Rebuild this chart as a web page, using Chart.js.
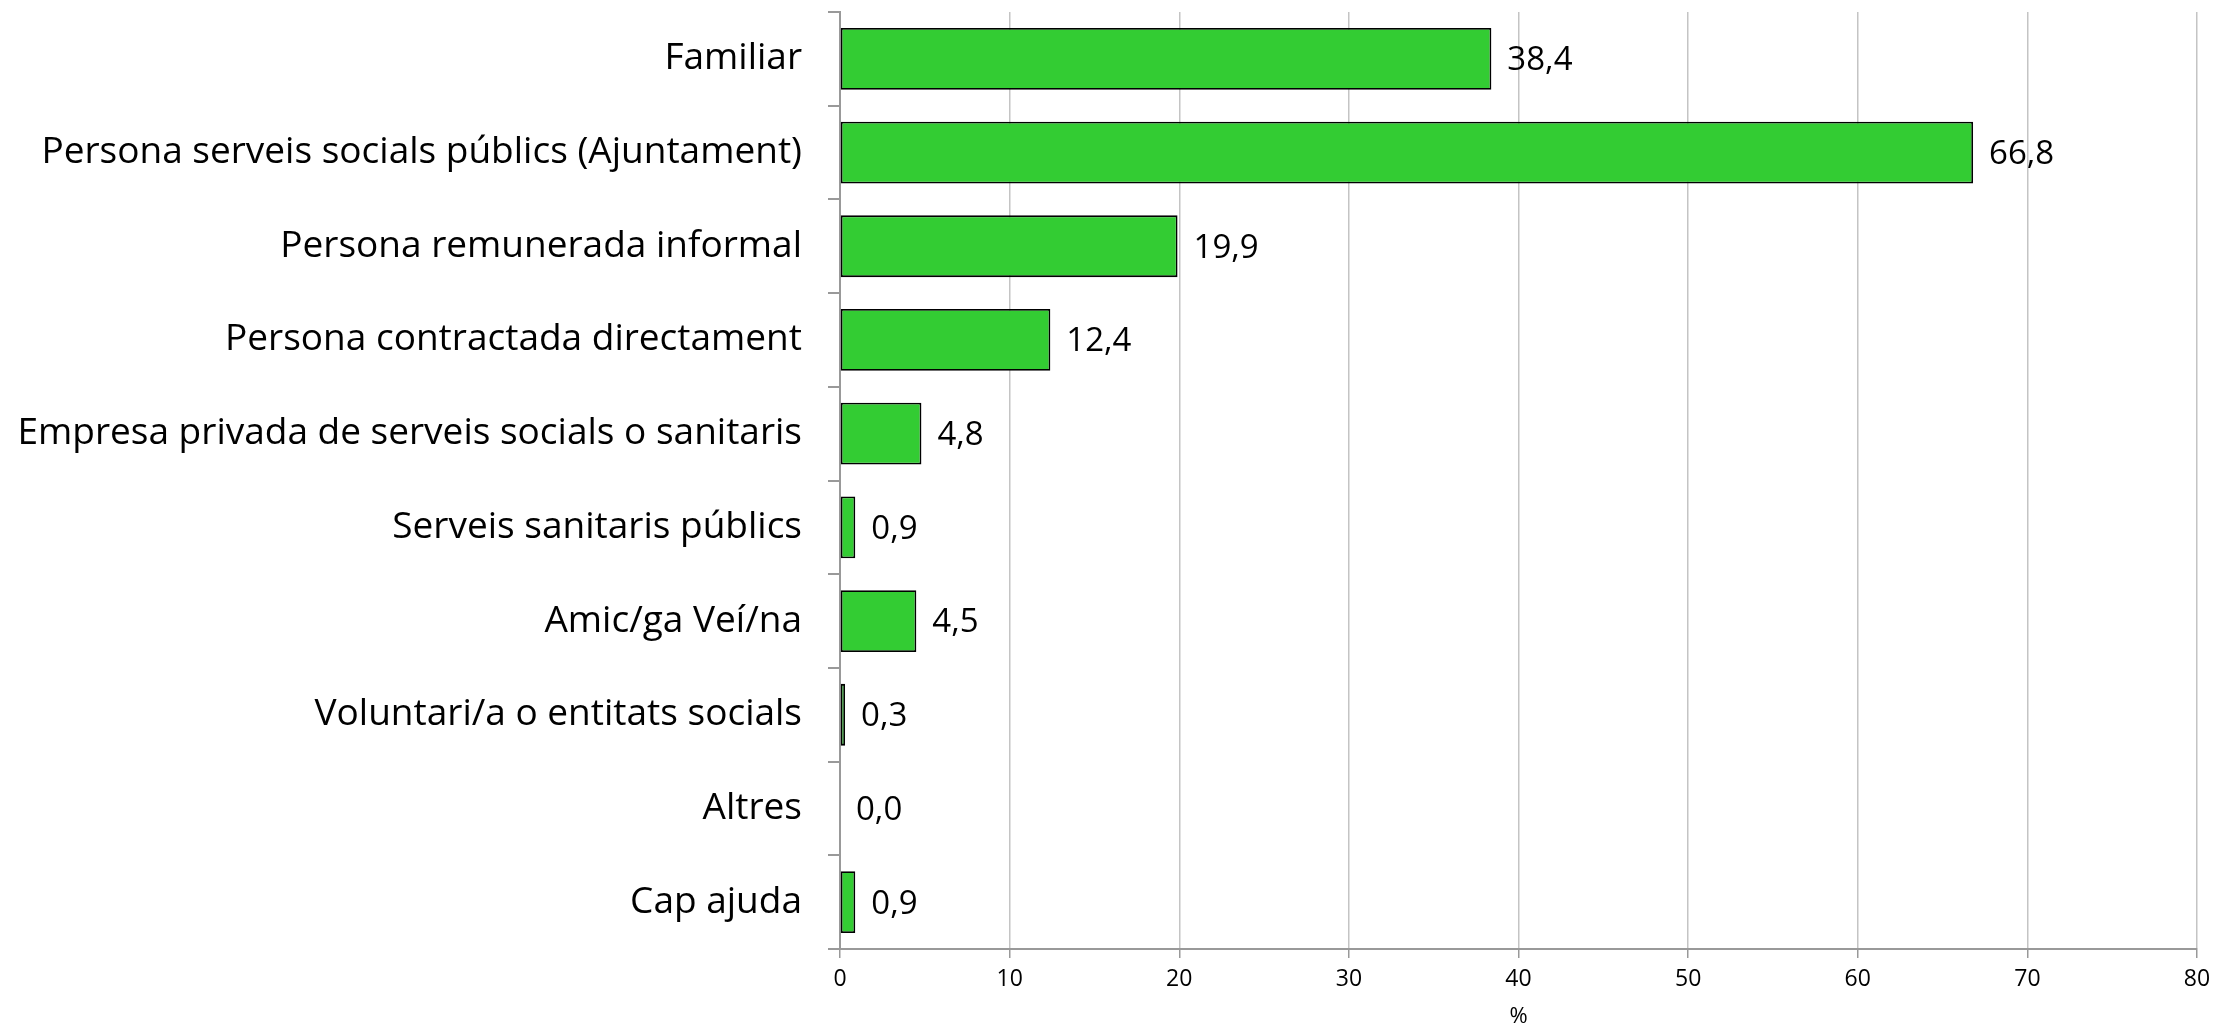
<!DOCTYPE html>
<html>
<head>
<meta charset="utf-8">
<script src="https://cdn.jsdelivr.net/npm/chart.js@4.4.1/dist/chart.umd.min.js"></script>
<style>
  html, body { margin: 0; padding: 0; background: #fff; }
  #wrap { width: 2219px; height: 1027px; position: relative; }
</style>
</head>
<body>
<div id="wrap"><canvas id="chart"></canvas></div>
<script>
// ── Data ────────────────────────────────────────────────────────────────────
const categories = [
  'Familiar',
  'Persona serveis socials públics (Ajuntament)',
  'Persona remunerada informal',
  'Persona contractada directament',
  'Empresa privada de serveis socials o sanitaris',
  'Serveis sanitaris públics',
  'Amic/ga Veí/na',
  'Voluntari/a o entitats socials',
  'Altres',
  'Cap ajuda'
];
const values = [38.4, 66.8, 19.9, 12.4, 4.8, 0.9, 4.5, 0.3, 0.0, 0.9];
const xTicks = [0, 10, 20, 30, 40, 50, 60, 70, 80];
const xTitle = '%';

const FONT = '"Open Sans", Lato, sans-serif';
const fmt = v => v.toFixed(1).replace('.', ',');

// ── Value labels at bar ends ────────────────────────────────────────────────
const valueLabels = {
  id: 'valueLabels',
  afterDatasetsDraw(chart) {
    const ctx = chart.ctx;
    const meta = chart.getDatasetMeta(0);
    ctx.save();
    ctx.font = '33px ' + FONT;
    ctx.fillStyle = '#000';
    ctx.textAlign = 'left';
    ctx.textBaseline = 'middle';
    meta.data.forEach((bar, i) => {
      ctx.fillText(fmt(values[i]), bar.x + 16, bar.y + 2);
    });
    ctx.restore();
  }
};

new Chart(document.getElementById('chart'), {
  type: 'bar',
  data: {
    labels: categories,
    datasets: [{
      data: values,
      backgroundColor: '#33cc33',
      borderColor: '#000',
      borderWidth: 1.8,
      borderSkipped: false,
      barPercentage: 0.66,
      categoryPercentage: 1
    }]
  },
  options: {
    indexAxis: 'y',
    responsive: true,
    maintainAspectRatio: false,
    animation: false,
    layout: { padding: { top: 12, right: 22, left: 0, bottom: 0 } },
    plugins: { legend: { display: false }, tooltip: { enabled: false } },
    scales: {
      x: {
        min: 0, max: 80,
        afterBuildTicks: s => { s.ticks = xTicks.map(v => ({ value: v })); },
        afterFit: s => { s.height = 78; },
        grid: { color: '#c4c4c4', lineWidth: 1.5, tickLength: 9, tickColor: '#999' },
        border: { color: '#999', width: 2 },
        ticks: { color: '#000', font: { family: FONT, size: 23 }, padding: 8 },
        title: { display: true, text: xTitle, color: '#000', font: { family: FONT, size: 22 }, padding: { top: 0, bottom: -3 } }
      },
      y: {
        afterFit: s => { s.width = 840; s.paddingTop = 0; s.paddingBottom = 0; },
        grid: { drawOnChartArea: false, tickLength: 12, tickColor: '#999', lineWidth: 2 },
        border: { color: '#999', width: 2 },
        ticks: { color: '#000', font: { family: FONT, size: 37 }, padding: 26, autoSkip: false }
      }
    }
  },
  plugins: [valueLabels]
});
</script>
</body>
</html>
